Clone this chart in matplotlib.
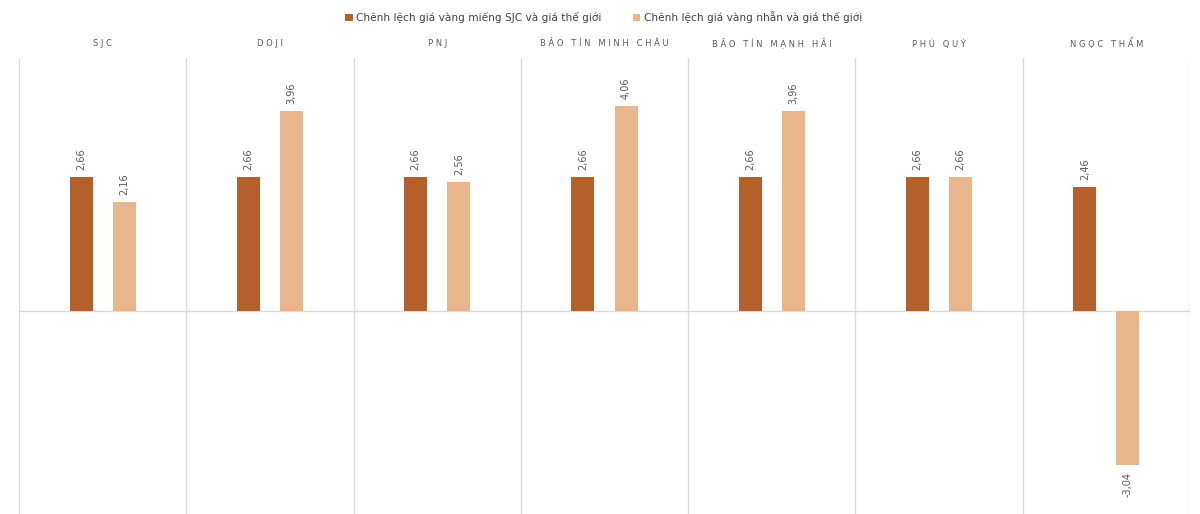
import matplotlib.pyplot as plt
import numpy as np

brands = ['SJC', 'DOJI', 'PNJ', 'BẢO TÍN MINH CHÂU', 'BẢO TÍN MẠNH HẢI', 'PHÚ QUÝ', 'NGỌC THẨM']
sjc_gap = [2.66, 2.66, 2.66, 2.66, 2.66, 2.66, 2.46]
ring_gap = [2.16, 3.96, 2.56, 4.06, 3.96, 2.66, -3.04]
series_names = ['Chênh lệch giá vàng miếng SJC và giá thế giới',
                'Chênh lệch giá vàng nhẫn và giá thế giới']

dark = '#B5602A'
light = '#E9B58A'
grid_col = '#D9D9D9'
text_col = '#595959'


def spaced(s):
    # spread the letters like the category headers in the original
    words = s.split(' ')
    return '   '.join(' '.join(wd) for wd in words)


fig = plt.figure(figsize=(12, 5.14), dpi=100)
ax = fig.add_axes([19 / 1200, 0, 1171 / 1200, 1 - 58 / 514])

x = np.arange(len(brands)) + 0.5
off = 21.5 / 167
w = 23 / 167

b1 = ax.bar(x - off, sjc_gap, w, color=dark, label=series_names[0], zorder=3)
b2 = ax.bar(x + off, ring_gap, w, color=light, label=series_names[1], zorder=3)

for bars in (b1, b2):
    for r in bars:
        v = r.get_height()
        lbl = f'{v:.2f}'.replace('.', ',')
        xc = r.get_x() + r.get_width() / 2
        if v >= 0:
            ax.annotate(lbl, (xc, v), xytext=(0, 5), textcoords='offset points',
                        rotation=90, ha='center', va='bottom', fontsize=7, color=text_col)
        else:
            ax.annotate(lbl, (xc, v), xytext=(0, -5), textcoords='offset points',
                        rotation=90, ha='center', va='top', fontsize=7, color=text_col)

for i in range(len(brands) + 1):
    ax.axvline(i, color=grid_col, lw=1, zorder=1)
ax.axhline(0, color=grid_col, lw=1, zorder=2)

ax.set_xlim(0, len(brands))
ax.set_ylim(-4, 5)
ax.axis('off')

for xi, name in zip(x, brands):
    ax.text(xi, 1.031, spaced(name), transform=ax.get_xaxis_transform(),
            ha='center', va='center', fontsize=6, color=text_col)

fig.legend(handles=[b1, b2], labels=series_names, loc='center', bbox_to_anchor=(0.503, 1 - 17 / 514),
           ncol=2, frameon=False, fontsize=7.6, handlelength=0.7, handleheight=0.7,
           handletextpad=0.3, columnspacing=3.0, labelcolor='#404040')

fig.savefig('out.png', dpi=100)
